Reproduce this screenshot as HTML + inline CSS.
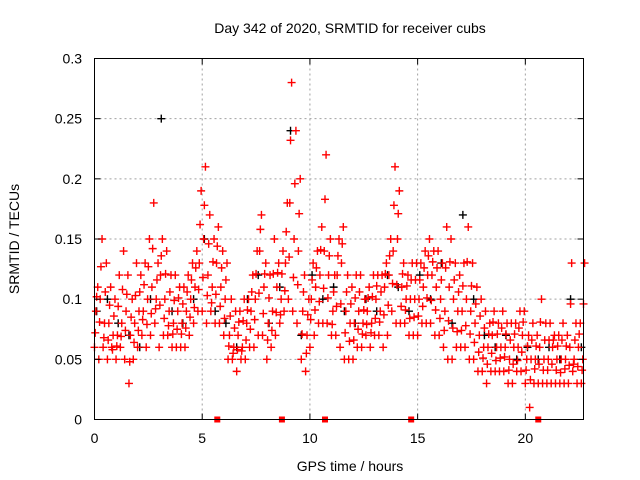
<!DOCTYPE html>
<html><head><meta charset="utf-8"><style>
body{margin:0;background:#fff}
svg{display:block;font-family:"Liberation Sans",sans-serif}
</style></head><body>
<svg id="chart" width="640" height="480" viewBox="0 0 640 480">
<rect width="640" height="480" fill="#fff"/>
<g id="grid"></g>
<g id="marks"></g>
<rect x="94.5" y="58.5" width="489" height="361" fill="none" stroke="#000" stroke-width="1"/>
<g id="axes"></g>
<text x="350" y="33" font-size="14" text-anchor="middle">Day 342 of 2020, SRMTID for receiver cubs</text>
<text x="350" y="471" font-size="14" text-anchor="middle">GPS time / hours</text>
<text x="0" y="0" font-size="14" text-anchor="middle" transform="translate(19,239) rotate(-90)">SRMTID / TECUs</text>
</svg>
<script>
const xTicks=[0,5,10,15,20];
const yTicks=[0,0.05,0.1,0.15,0.2,0.25,0.3];
const yTickLabels=["0","0.05","0.1","0.15","0.2","0.25","0.3"];
const slotStep=0.2;
const redLo=[0.06,0.05,0.06,0.05,0.06, 0.05,0.06,0.05,0.03,0.05, 0.06,0.07,0.06,0.07,0.08, 0.06,0.07,0.07,0.06,0.06, 0.06,0.06,0.07,0.08,0.09, 0.09,0.08,0.09,0.08,0.08, 0.07,0.05,0.05,0.04,0.05, 0.05,0.06,0.06,0.07,0.07, 0.05,0.06,0.07,0.08,0.09, 0.10,0.09,0.08,0.05,0.04, 0.06,0.07,0.08,0.08,0.08, 0.07,0.07,0.06,0.05,0.05, 0.05,0.06,0.06,0.07,0.06, 0.07,0.07,0.06,0.07,0.09, 0.08,0.08,0.08,0.07,0.07, 0.07,0.08,0.08,0.08,0.07, 0.07,0.06,0.05,0.05,0.06, 0.06,0.06,0.05,0.05,0.04, 0.04,0.03,0.04,0.04,0.04, 0.04,0.03,0.03,0.04,0.04, 0.03,0.01,0.03,0.03,0.03, 0.03,0.03,0.03,0.03,0.03, 0.03,0.04,0.03,0.03];
const redMidLo=[.072,.081,.068,.066,.058, .061,.069,.074,.048,.064, .074,.083,.079,.088,.092, .095,.084,.078,.071,.075, .071,.076,.085,.093,.108, .118,.103,.097,.104,.094, .084,.061,.055,.058,.057, .066,.075,.083,.105,.088, .066,.074,.089,.087,.107, .135,.118,.112,.071,.055, .083,.091,.098,.109,.101, .079,.094,.096,.072,.065, .066,.075,.071,.079,.072, .084,.081,.087,.095,.113, .112,.094,.091,.084,.085, .086,.094,.101,.099,.091, .084,.074,.082,.076,.073, .074,.078,.071,.064,.056, .051,.046,.055,.049,.051, .052,.041,.046,.049,.056, .041,.033,.042,.046,.041, .041,.046,.041,.039,.042, .045,.046,.044,.041];
const redMid=[0.09,0.10,0.08,0.08,0.07, 0.07,0.08,0.09,0.07,0.08, 0.09,0.09,0.10,0.11,0.10, 0.12,0.10,0.09,0.08,0.09, 0.08,0.09,0.10,0.11,0.13, 0.15,0.12,0.11,0.13,0.11, 0.10,0.07,0.06,0.07,0.06, 0.08,0.09,0.10,0.14,0.11, 0.08,0.09,0.11,0.10,0.13, 0.18,0.15,0.14,0.09,0.07, 0.10,0.11,0.12,0.14,0.12, 0.09,0.12,0.13,0.09,0.08, 0.08,0.09,0.08,0.09,0.08, 0.10,0.09,0.11,0.12,0.14, 0.15,0.11,0.10,0.10,0.10, 0.10,0.11,0.12,0.12,0.11, 0.10,0.09,0.11,0.10,0.09, 0.09,0.10,0.09,0.08,0.07, 0.06,0.06,0.07,0.06,0.06, 0.06,0.05,0.06,0.06,0.07, 0.05,0.05,0.05,0.06,0.05, 0.05,0.06,0.05,0.05,0.05, 0.06,0.05,0.06,0.05];
const redMidHi=[.102,.127,.106,.095,.086, .094,.108,.104,.085,.103, .106,.112,.127,.142,.116, .136,.121,.106,.099,.101, .096,.106,.116,.126,.162, .178,.146,.131,.144,.126, .116,.086,.076,.081,.082, .091,.106,.121,.158,.121, .101,.121,.122,.121,.156, .232,.196,.171,.106,.087, .116,.126,.141,.183,.136, .106,.136,.146,.106,.096, .101,.106,.091,.101,.102, .111,.106,.121,.136,.178, .171,.121,.111,.116,.116, .116,.126,.136,.131,.126, .116,.126,.131,.116,.106, .111,.131,.111,.096,.086, .076,.071,.081,.071,.076, .071,.066,.071,.076,.081, .061,.066,.061,.081,.066, .066,.066,.061,.066,.061, .096,.066,.071,.096];
const redHi=[0.11,0.15,0.13,0.11,0.10, 0.12,0.14,0.12,0.10,0.13, 0.12,0.13,0.15,0.18,0.13, 0.15,0.14,0.12,0.12,0.11, 0.11,0.12,0.13,0.14,0.19, 0.21,0.17,0.15,0.16,0.14, 0.13,0.10,0.09,0.09,0.10, 0.10,0.12,0.14,0.17,0.13, 0.12,0.15,0.13,0.14,0.18, 0.28,0.24,0.20,0.12,0.10, 0.13,0.14,0.16,0.22,0.15, 0.12,0.15,0.16,0.12,0.11, 0.12,0.12,0.10,0.11,0.12, 0.12,0.12,0.13,0.15,0.21, 0.19,0.13,0.12,0.13,0.13, 0.13,0.14,0.15,0.14,0.14, 0.13,0.16,0.15,0.13,0.12, 0.13,0.16,0.13,0.11,0.10, 0.09,0.08,0.09,0.08,0.09, 0.08,0.08,0.08,0.09,0.09, 0.07,0.08,0.07,0.10,0.08, 0.08,0.07,0.07,0.08,0.07, 0.13,0.08,0.08,0.13];
const blackStep=0.5;
const blackVals=[0.09,0.10,0.08,0.07,0.06,0.10,0.25,0.09,0.08,0.10,0.15,0.09,0.08,0.06,0.10,0.12,0.08,0.11,0.24,0.07,0.12,0.10,0.11,0.09,0.08,0.10,0.09,0.12,0.11,0.09,0.12,0.10,0.13,0.08,0.17,0.10,0.07,0.06,0.07,0.05,0.06,0.05,0.06,0.05,0.10,0.06];
const gapHours=[5.7,8.7,10.7,14.7,20.6];

const NS="http://www.w3.org/2000/svg";
const X0=94.5,X1=583.5,Y0=419.5,Y1=58.5,XMAX=22.7,YMAX=0.3;
const xs=h=>X0+(h/XMAX)*(X1-X0);
const ys=v=>Y0-(v/YMAX)*(Y0-Y1);
function mk(tag,attrs,parent){const e=document.createElementNS(NS,tag);for(const k in attrs)e.setAttribute(k,attrs[k]);parent.appendChild(e);return e;}
const grid=document.getElementById('grid'),axes=document.getElementById('axes'),marks=document.getElementById('marks');
xTicks.forEach(t=>{
  const x=xs(t);
  if(t>0){const g=mk('line',{x1:x,x2:x,y1:Y1,y2:Y0,stroke:'#a0a0a0','stroke-dasharray':'2,3'},grid);
  
  }
  mk('line',{x1:x,x2:x,y1:Y0,y2:Y0-6,stroke:'#000'},axes);
  mk('line',{x1:x,x2:x,y1:Y1,y2:Y1+6,stroke:'#000'},axes);
  const l=mk('text',{x:x,y:443,'font-size':14,'text-anchor':'middle'},axes);
  l.textContent=t;
  
  
});
yTicks.forEach((t,i)=>{
  const y=ys(t);
  if(t>0&&t<YMAX){const g=mk('line',{x1:X0,x2:X1,y1:y,y2:y,stroke:'#a0a0a0','stroke-dasharray':'2,3'},grid);
  
  }
  mk('line',{x1:X0,x2:X0+6,y1:y,y2:y,stroke:'#000'},axes);
  mk('line',{x1:X1,x2:X1-6,y1:y,y2:y,stroke:'#000'},axes);
  const l=mk('text',{x:82,y:y+5,'font-size':14,'text-anchor':'end'},axes);
  l.textContent=yTickLabels[i];
  
  
});
function plus(h,v,color,name){
  const x=xs(h),y=ys(v);
  const p=mk('path',{d:`M${x-4},${y}h8M${x},${y-4}v8`,stroke:color,'stroke-width':1.4,fill:'none'},marks);
  
  
}
blackVals.forEach((v,i)=>plus(i*blackStep+0.1,v,'#000','black-point'));
redLo.forEach((v,i)=>plus(i*slotStep,v,'#ff0000','red-point'));
redMidLo.forEach((v,i)=>plus(i*slotStep+0.035,v,'#ff0000','red-point'));
redMid.forEach((v,i)=>plus(i*slotStep+0.065,v,'#ff0000','red-point'));
redMidHi.forEach((v,i)=>plus(i*slotStep+0.1,v,'#ff0000','red-point'));
redHi.forEach((v,i)=>plus(i*slotStep+0.15,v,'#ff0000','red-point'));
gapHours.forEach(h=>{
  const r=mk('rect',{x:xs(h)-3,y:Y0-3,width:6,height:6,fill:'#ff0000'},marks);
  
  
});
</script>
</body></html>
